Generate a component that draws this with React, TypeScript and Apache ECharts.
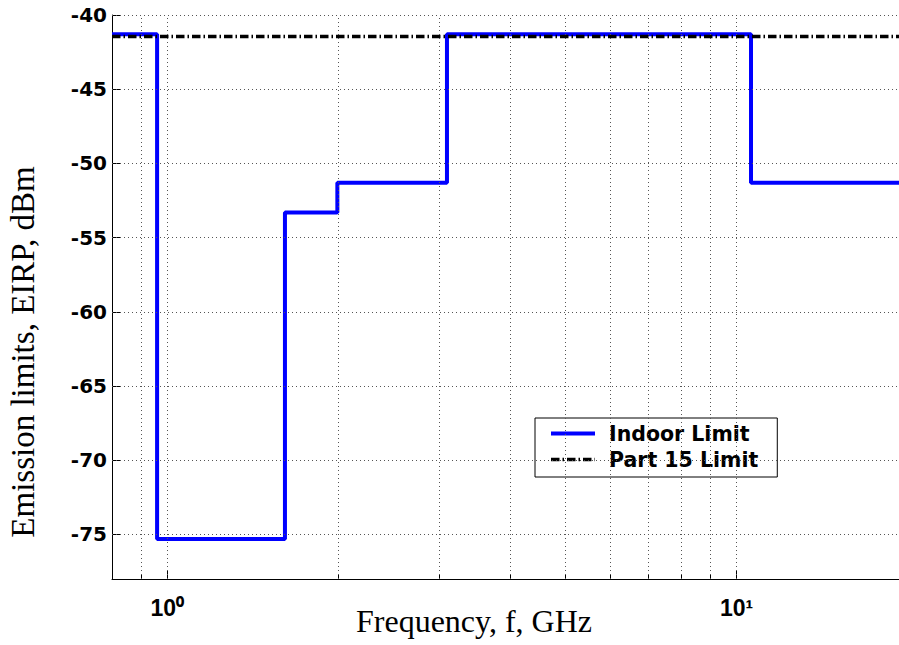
import { useEffect, useRef } from 'react';
import * as echarts from 'echarts';

// Indoor UWB emission mask (step levels hold from each breakpoint to the next)
const indoorFreqGHz = [0.8, 0.96, 1.61, 1.99, 3.1, 10.6, 20];
const indoorLimitDbm = [-41.3, -75.3, -53.3, -51.3, -41.3, -51.3, -51.3];
// Part 15 limit
const part15FreqGHz = [0.8, 20];
const part15LimitDbm = [-41.45, -41.45];
// Axis ticks
const yTicks = [-75, -70, -65, -60, -55, -50, -45, -40];
const xMajorTicks = [1, 10];
const xMajorLabels = ['10\u2070', '10\u00b9'];
const xMinorTicks = [0.9, 2, 3, 4, 5, 6, 7, 8, 9, 20];
const seriesNames = ['Indoor Limit', 'Part 15 Limit'];

const gridLine = { color: '#555', width: 1, type: [1, 3] as number[] };
const indoorLine = { color: '#0000ff', width: 4 };
const part15Line = { color: '#000', width: 3.5, type: [8.5, 3, 1.5, 3] as number[] };

export default function App() {
  const ref = useRef<HTMLDivElement>(null);
  useEffect(() => {
    if (!ref.current) return;
    const chart = echarts.init(ref.current, undefined, { renderer: 'svg' });
    const xBase = {
      type: 'log' as const,
      logBase: 10,
      min: 0.8,
      max: 20,
      position: 'bottom' as const,
    };
    const gridMarks = [
      ...xMajorTicks.map((v) => ({ xAxis: v })),
      ...xMinorTicks.map((v) => ({ xAxis: v })),
      ...yTicks.map((v) => ({ yAxis: v })),
    ];
    chart.setOption({
      animation: false,
      backgroundColor: '#fff',
      grid: { left: 112, top: 15, right: -9, bottom: 66, containLabel: false, outerBoundsMode: 'none' },
      legend: {
        orient: 'vertical',
        left: 535,
        top: 418,
        padding: [5, 19, 7, 14],
        itemWidth: 44,
        itemHeight: 20,
        itemGap: 5,
        backgroundColor: '#fff',
        borderColor: '#000',
        borderWidth: 1,
        borderRadius: 0,
        itemStyle: { opacity: 0, color: 'transparent', borderColor: 'transparent', borderWidth: 0 },
        lineStyle: { width: 4 },
        textStyle: {
          fontFamily: 'DejaVu Sans',
          fontWeight: 'bold',
          fontSize: 20.5,
          color: '#000',
          lineHeight: 20,
          padding: [0, 0, 0, 9],
        },
        data: [
          { name: seriesNames[0], lineStyle: indoorLine },
          { name: seriesNames[1], lineStyle: part15Line },
        ],
      },
      xAxis: [
        {
          ...xBase,
          name: 'Frequency, f, GHz',
          nameLocation: 'middle',
          nameGap: 26,
          nameMoveOverlap: false,
          nameTextStyle: {
            fontFamily: 'Liberation Serif',
            fontSize: 32,
            color: '#000',
            padding: [0, 72, 0, 0],
          },
          axisLine: { show: true, onZero: false, lineStyle: { color: '#000', width: 1 } },
          axisTick: { show: true, inside: true, length: 9, customValues: xMajorTicks, lineStyle: { color: '#000' } },
          axisLabel: {
            customValues: xMajorTicks,
            margin: 17,
            fontFamily: 'Liberation Sans',
            fontWeight: 'bold',
            fontSize: 23,
            lineHeight: 23,
            color: '#000',
            formatter: (v: number) => xMajorLabels[xMajorTicks.indexOf(v)] ?? '',
          },
          splitLine: { show: false },
        },
        {
          ...xBase,
          axisLine: { show: false },
          axisLabel: { show: false },
          axisTick: { show: true, inside: true, length: 5, customValues: xMinorTicks, lineStyle: { color: '#000' } },
          splitLine: { show: false },
        },
      ],
      yAxis: {
        type: 'value',
        min: -78,
        max: -40,
        name: 'Emission limits, EIRP, dBm',
        nameLocation: 'middle',
        nameGap: 73,
        nameMoveOverlap: false,
        nameTextStyle: {
          fontFamily: 'Liberation Serif',
          fontSize: 33,
          color: '#000',
          padding: [0, 110, 0, 0],
        },
        axisLine: { show: true, lineStyle: { color: '#000', width: 1 } },
        axisTick: { show: true, inside: true, length: 8, customValues: yTicks, lineStyle: { color: '#000' } },
        axisLabel: {
          customValues: yTicks,
          margin: 5,
          fontFamily: 'DejaVu Sans',
          fontWeight: 'bold',
          fontSize: 20,
          color: '#000',
        },
        splitLine: { show: false },
      },
      series: [
        {
          name: 'gridlines',
          type: 'line',
          data: [],
          symbol: 'none',
          silent: true,
          markLine: {
            silent: true,
            symbol: ['none', 'none'],
            label: { show: false },
            lineStyle: gridLine,
            emphasis: { disabled: true },
            data: gridMarks,
          },
        },
        {
          name: seriesNames[0],
          type: 'line',
          step: 'end',
          symbol: 'none',
          data: indoorFreqGHz.map((f, i) => [f, indoorLimitDbm[i]]),
          lineStyle: indoorLine,
          itemStyle: { color: '#0000ff' },
        },
        {
          name: seriesNames[1],
          type: 'line',
          symbol: 'none',
          data: part15FreqGHz.map((f, i) => [f, part15LimitDbm[i]]),
          lineStyle: part15Line,
          itemStyle: { color: '#000' },
        },
      ],
    });
    return () => chart.dispose();
  }, []);
  return (
    <div
      ref={ref}
      style={{ position: 'fixed', left: 0, top: 0, width: 899, height: 645 }}
    />
  );
}
